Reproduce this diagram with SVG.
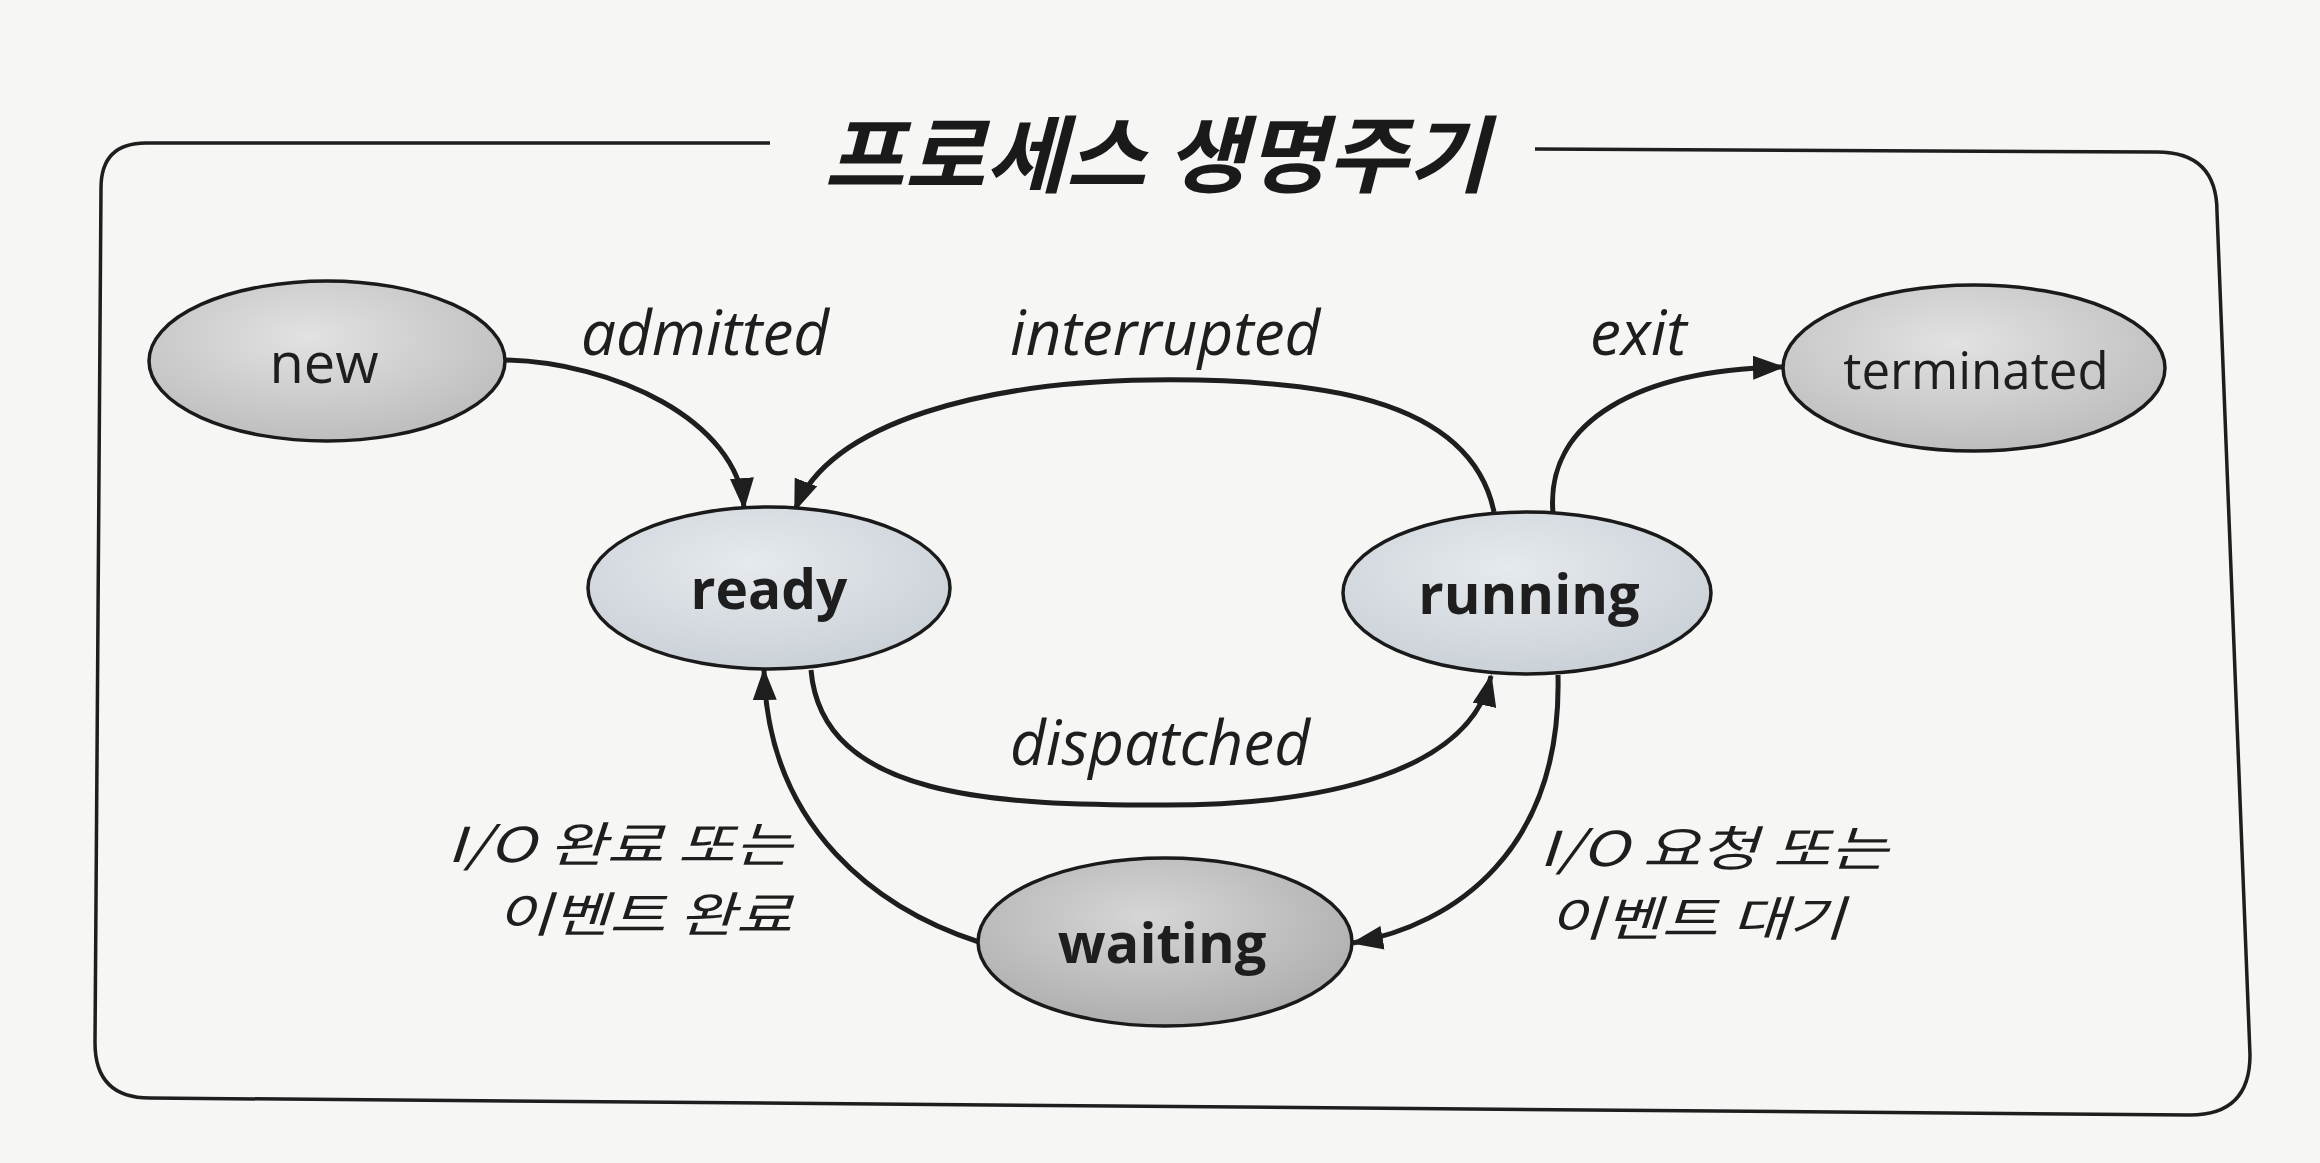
<svg xmlns="http://www.w3.org/2000/svg" width="2320" height="1163" viewBox="0 0 2320 1163">
<style>
.node{stroke:#1a1a1a;stroke-width:3.5}
.lbl{font-family:"Open Sans","Noto Sans CJK KR",sans-serif;fill:#1e1e1e;text-anchor:middle}
.b{font-weight:700}
.it{font-family:"Open Sans","Noto Sans CJK KR",sans-serif;font-style:italic;fill:#1e1e1e;font-size:62px}
.kr{font-family:"Noto Sans CJK KR",sans-serif;font-style:italic;fill:#1e1e1e;font-size:48px}
.edge{fill:none;stroke:#1e1e1e;stroke-width:5;marker-end:url(#ah)}
</style>
<defs>
<marker id="ah" viewBox="0 0 32 24" refX="30" refY="12" markerWidth="32" markerHeight="24" markerUnits="userSpaceOnUse" orient="auto">
<path d="M0,0 L32,12 L0,24 Z" fill="#1e1e1e"/>
</marker>
<radialGradient id="g1" cx="0.45" cy="0.35" r="0.75">
<stop offset="0" stop-color="#e2e2e2"/><stop offset="1" stop-color="#b8b8b8"/>
</radialGradient>
<radialGradient id="g2" cx="0.45" cy="0.35" r="0.75">
<stop offset="0" stop-color="#e6eaee"/><stop offset="1" stop-color="#c6cdd4"/>
</radialGradient>
<radialGradient id="g3" cx="0.45" cy="0.35" r="0.75">
<stop offset="0" stop-color="#d6d6d6"/><stop offset="1" stop-color="#a8a8a8"/>
</radialGradient>
</defs>
<rect width="2320" height="1163" fill="#f6f6f4"/>
<path d="M770,143 L146,143 Q101,143 101,188 L95,1043 Q95,1098 150,1098 L2190,1115 Q2250,1115 2250,1055 L2217,212 Q2217,152 2157,152 L1535,149" fill="none" stroke="#1e1e1e" stroke-width="3.5"/>
<text x="824" y="186" font-family="Noto Sans CJK KR, sans-serif" font-weight="700" font-style="italic" font-size="84" fill="#1a1a1a" textLength="664" lengthAdjust="spacingAndGlyphs">프로세스 생명주기</text>

<g id="connectors">
<path id="e-admitted" class="edge" d="M505,360 C612,362 738,420 744,508"/>
<path id="e-interrupted" class="edge" d="M1494,512 C1470,395 1310,378 1150,380 C990,382 830,420 795,510"/>
<path id="e-exit" class="edge" d="M1553,513 C1545,420 1640,370 1783,367"/>
<path id="e-dispatched" class="edge" d="M811,670 C822,800 1000,805 1165,805 C1330,805 1470,770 1491,676"/>
<path id="e-io-request" class="edge" d="M1558,675 C1562,850 1455,925 1353,943"/>
<path id="e-io-done" class="edge" d="M979,942 C880,910 768,830 764,670"/>
<text class="it" x="581" y="355">admitted</text>
<text class="it" x="1010" y="355">interrupted</text>
<text class="it" x="1590" y="355">exit</text>
<text class="it" x="1010" y="765">dispatched</text>
<text class="kr" x="447" y="862" textLength="345" lengthAdjust="spacingAndGlyphs">I/O 완료 또는</text>
<text class="kr" x="496" y="932" textLength="296" lengthAdjust="spacingAndGlyphs">이벤트 완료</text>
<text class="kr" x="1539" y="866" textLength="349" lengthAdjust="spacingAndGlyphs">I/O 요청 또는</text>
<text class="kr" x="1548" y="936" textLength="297" lengthAdjust="spacingAndGlyphs">이벤트 대기</text>
</g>

<g id="node-new">
<ellipse class="node" cx="327" cy="361" rx="178" ry="80" fill="url(#g1)"/>
<text class="lbl" x="324" y="383" font-size="56">new</text>
</g>
<g id="node-ready">
<ellipse class="node" cx="769" cy="588" rx="181" ry="81" fill="url(#g2)"/>
<text class="lbl b" x="769" y="609" font-size="55">ready</text>
</g>
<g id="node-running">
<ellipse class="node" cx="1527" cy="593" rx="184" ry="81" fill="url(#g2)"/>
<text class="lbl b" x="1529" y="614" font-size="56">running</text>
</g>
<g id="node-terminated">
<ellipse class="node" cx="1974" cy="368" rx="191" ry="83" fill="url(#g1)"/>
<text class="lbl" x="1976" y="389" font-size="51">terminated</text>
</g>
<g id="node-waiting">
<ellipse class="node" cx="1165" cy="942" rx="187" ry="84" fill="url(#g3)"/>
<text class="lbl b" x="1162" y="963" font-size="56">waiting</text>
</g>
</svg>
